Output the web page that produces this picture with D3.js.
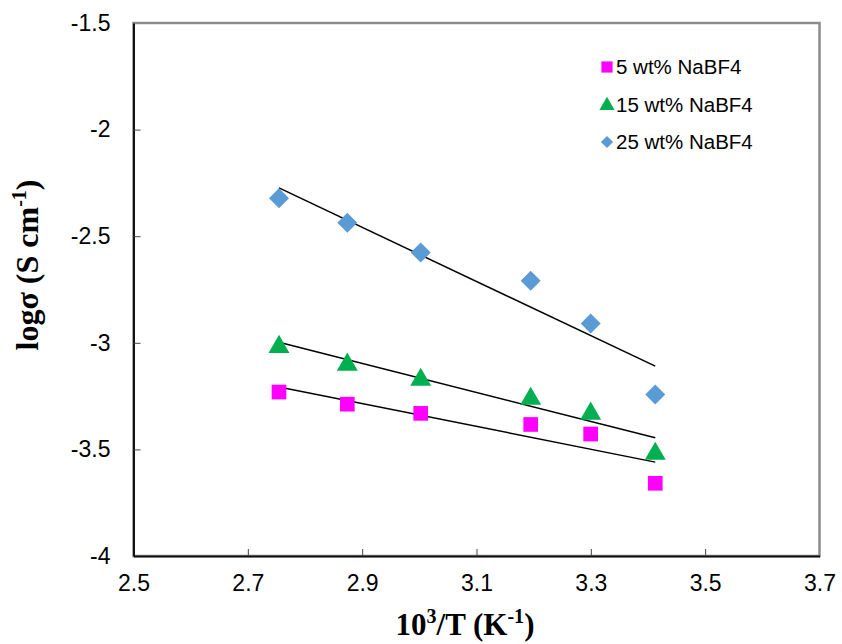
<!DOCTYPE html>
<html>
<head>
<meta charset="utf-8">
<script src="https://cdn.jsdelivr.net/npm/d3@7"></script>
<style>
  body { margin: 0; background: #fff; }
  svg { display: block; }
</style>
</head>
<body>
<div id="chart"></div>
<script>
// data
var invT = [2.7545, 2.874, 3.0024, 3.1948, 3.2997, 3.4127];
var series = ['5 wt% NaBF4', '15 wt% NaBF4', '25 wt% NaBF4'];
var logS5 = [-3.231, -3.288, -3.331, -3.383, -3.428, -3.659];
var logS15 = [-3.010, -3.093, -3.164, -3.253, -3.323, -3.511];
var logS25 = [-2.322, -2.437, -2.577, -2.709, -2.909, -3.242];
var xTicks = [2.5, 2.7, 2.9, 3.1, 3.3, 3.5, 3.7];
var yTicks = [-1.5, -2, -2.5, -3, -3.5, -4];

var width = 842, height = 644;
var margin = {top: 23, right: 22.5, bottom: 88, left: 133.5};
var w = width - margin.left - margin.right;
var h = height - margin.top - margin.bottom;

var svg = d3.select('#chart').append('svg')
  .attr('width', width)
  .attr('height', height);

var g = svg.append('g')
  .attr('transform', 'translate(' + margin.left + ',' + margin.top + ')');

var x = d3.scaleLinear().domain([2.5, 3.7]).range([0, w]);
var y = d3.scaleLinear().domain([-4, -1.5]).range([h, 0]);

// plot frame (grey) then black axes on top
g.append('rect')
  .attr('width', w).attr('height', h)
  .attr('fill', 'none')
  .attr('stroke', '#8c8c8c')
  .attr('stroke-width', 2.5);

var xAxis = g.append('g')
  .attr('transform', 'translate(0,' + h + ')')
  .call(d3.axisBottom(x).tickValues(xTicks).tickSizeInner(-7).tickSizeOuter(0).tickPadding(19)
    .tickFormat(function(d){ return d.toFixed(1); }));

var yAxis = g.append('g')
  .call(d3.axisLeft(y).tickValues(yTicks).tickSizeInner(-7).tickSizeOuter(0).tickPadding(23)
    .tickFormat(function(d){ return String(d); }));

[xAxis, yAxis].forEach(function(ax){
  ax.select('.domain').attr('stroke', '#111').attr('stroke-width', 2);
  ax.selectAll('.tick line').attr('stroke', '#444').attr('stroke-width', 1);
  ax.selectAll('.tick text')
    .attr('fill', '#000')
    .style('font-family', 'Liberation Sans, Arial, sans-serif')
    .style('font-size', '23px');
});
xAxis.selectAll('.tick text').attr('dy', '0.71em');
// first/last tick lines sit on the frame
xAxis.selectAll('.tick').filter(function(d){ return d === 2.5 || d === 3.7; }).select('line').remove();
yAxis.selectAll('.tick').filter(function(d){ return d === -1.5 || d === -4; }).select('line').remove();

// least squares trend lines drawn from first to last point
function fit(xs, ys) {
  var mx = d3.mean(xs), my = d3.mean(ys);
  var sxy = d3.sum(xs, function(v, i){ return (v - mx) * (ys[i] - my); });
  var sxx = d3.sum(xs, function(v){ return (v - mx) * (v - mx); });
  var b = sxy / sxx, a = my - b * mx;
  var x0 = d3.min(xs), x1 = d3.max(xs);
  return [[x0, a + b * x0], [x1, a + b * x1]];
}

var sets = [
  {name: series[0], vals: logS5, color: '#ff00ff', shape: d3.symbolSquare, size: 215, lsize: 125, rot: 0, dy: 0},
  {name: series[1], vals: logS15, color: '#00b050', shape: d3.symbolTriangle, size: 190, lsize: 100, rot: 0, dy: 2},
  {name: series[2], vals: logS25, color: '#5b9bd5', shape: d3.symbolSquare, size: 200, lsize: 75, rot: 45, dy: 0}
];

var line = d3.line().x(function(d){ return x(d[0]); }).y(function(d){ return y(d[1]); });

sets.forEach(function(s){
  g.append('path')
    .attr('d', line(fit(invT, s.vals)))
    .attr('stroke', '#000')
    .attr('stroke-width', 1.5)
    .attr('fill', 'none');
});

sets.forEach(function(s){
  g.selectAll(null)
    .data(s.vals)
    .enter()
    .append('path')
    .attr('d', d3.symbol().type(s.shape).size(s.size))
    .attr('transform', function(d, i){
      return 'translate(' + x(invT[i]) + ',' + (y(d) + s.dy) + ') rotate(' + s.rot + ')';
    })
    .attr('fill', s.color);
});

// legend
var legend = svg.append('g').attr('transform', 'translate(607,67)');
sets.forEach(function(s, i){
  var row = legend.append('g').attr('transform', 'translate(0,' + (i * 37.5) + ')');
  row.append('path')
    .attr('d', d3.symbol().type(s.shape).size(s.lsize))
    .attr('transform', 'translate(0,' + (s.dy / 2) + ') rotate(' + s.rot + ')')
    .attr('fill', s.color);
  row.append('text')
    .attr('x', 9)
    .attr('y', 7)
    .style('font-family', 'Liberation Sans, Arial, sans-serif')
    .style('font-size', '20.5px')
    .text(s.name);
});

// axis titles
var xt = svg.append('text')
  .attr('x', 465)
  .attr('y', 635)
  .attr('text-anchor', 'middle')
  .style('font-family', 'Liberation Serif, Times New Roman, serif')
  .style('font-weight', 'bold')
  .style('font-size', '31px');
xt.append('tspan').text('10');
xt.append('tspan').attr('dy', -12).style('font-size', '20px').text('3');
xt.append('tspan').attr('dy', 12).text('/T (K');
xt.append('tspan').attr('dy', -12).style('font-size', '20px').text('-1');
xt.append('tspan').attr('dy', 12).text(')');

var yt = svg.append('text')
  .attr('transform', 'translate(38,265) rotate(-90)')
  .attr('text-anchor', 'middle')
  .style('font-family', 'Liberation Serif, Times New Roman, serif')
  .style('font-weight', 'bold')
  .style('font-size', '32px');
yt.append('tspan').text('logσ (S cm');
yt.append('tspan').attr('dy', -12).style('font-size', '20px').text('-1');
yt.append('tspan').attr('dy', 12).text(')');
</script>
</body>
</html>
